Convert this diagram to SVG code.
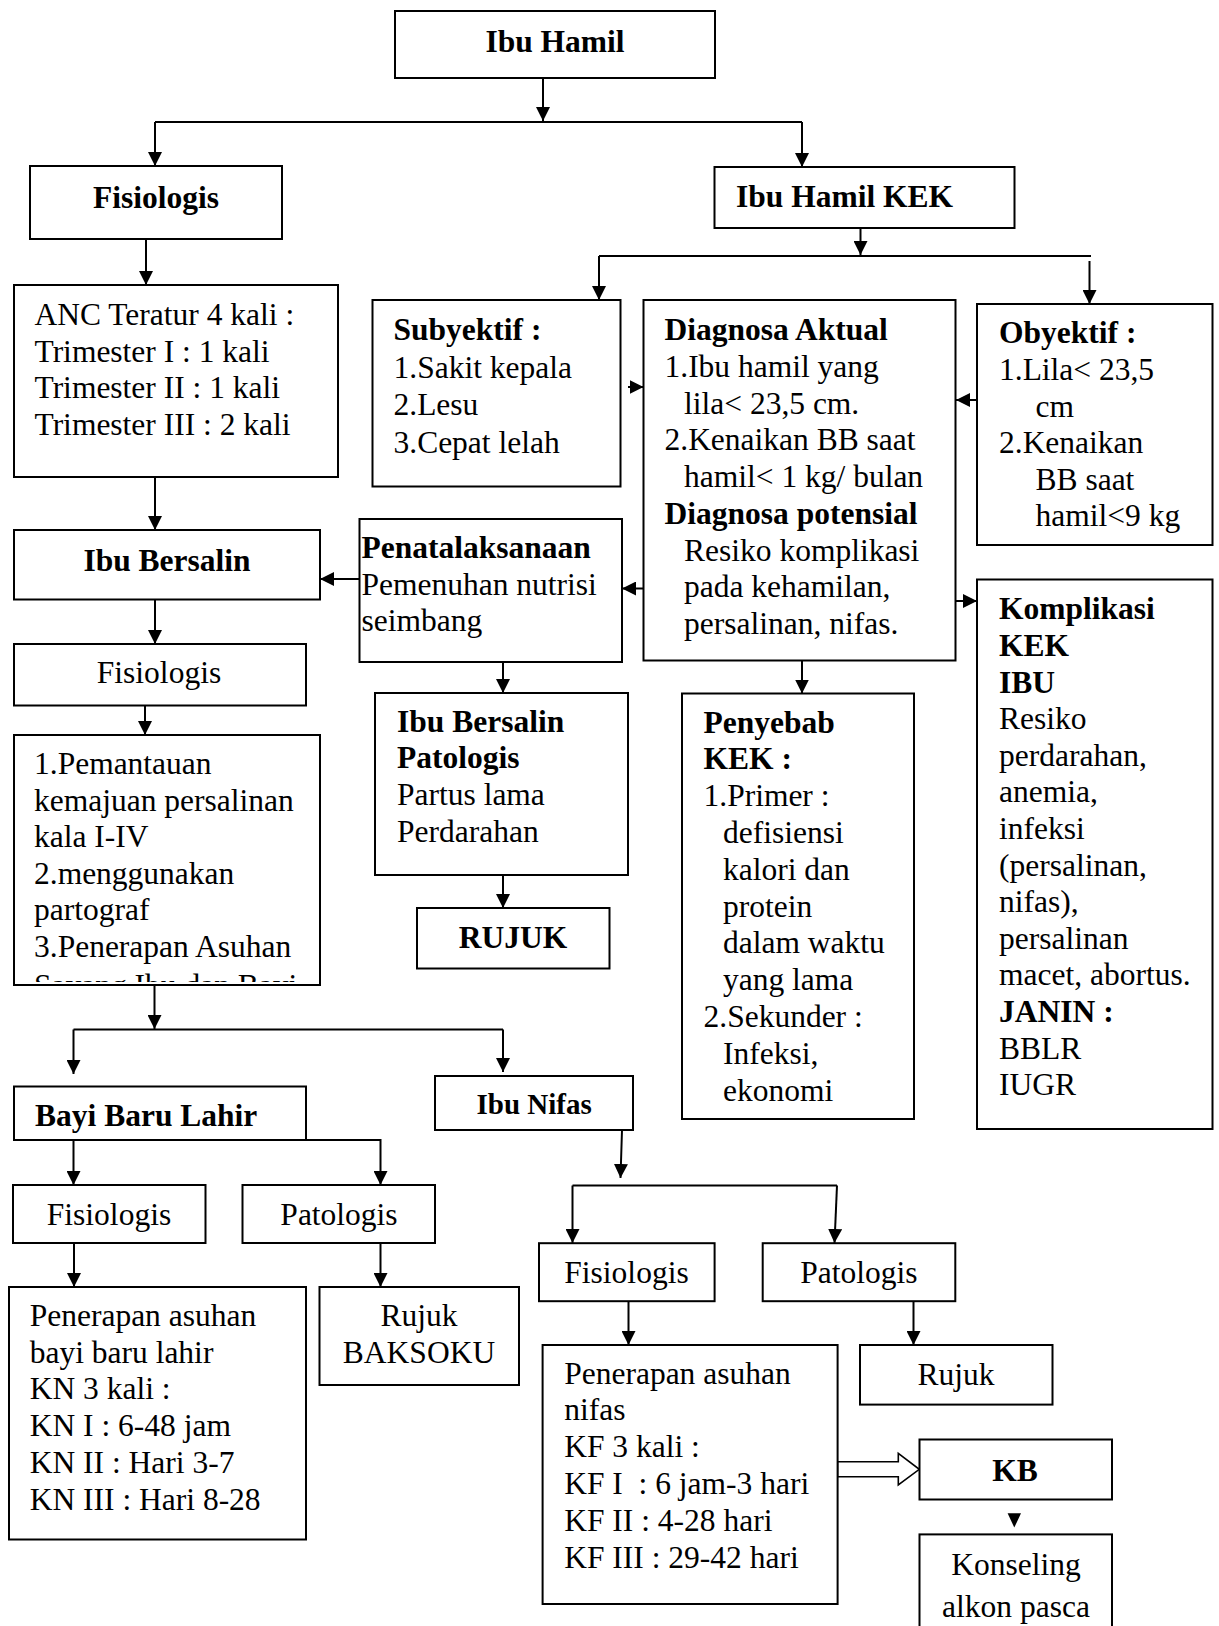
<svg xmlns="http://www.w3.org/2000/svg" width="1219" height="1626" viewBox="0 0 1219 1626">
<style>
.box{fill:#fff;stroke:#000;stroke-width:2}
text{font-family:"Liberation Serif","Times New Roman",serif;font-size:31.5px;fill:#000}
.b{font-weight:bold}
.c{text-anchor:middle}
.pre{white-space:pre}
.conn line,.conn path{stroke:#000;stroke-width:2;fill:none}
</style>
<defs>
<marker id="ah" markerUnits="userSpaceOnUse" markerWidth="14" markerHeight="14" refX="14" refY="7" orient="auto">
<path d="M0,0 L14,7 L0,14 z" fill="#000"/>
</marker>
<clipPath id="clipPem"><rect x="14" y="735" width="306" height="247"/></clipPath>
</defs>
<rect width="1219" height="1626" fill="#fff"/>

<g class="conn">
<line x1="543" y1="78" x2="543" y2="121" marker-end="url(#ah)"/>
<line x1="155" y1="122" x2="802" y2="122"/>
<line x1="155" y1="122" x2="155" y2="166" marker-end="url(#ah)"/>
<line x1="802" y1="122" x2="802" y2="167" marker-end="url(#ah)"/>
<line x1="146" y1="239" x2="146" y2="285" marker-end="url(#ah)"/>
<line x1="860.5" y1="213" x2="860.5" y2="255" marker-end="url(#ah)"/>
<line x1="599" y1="256" x2="1091" y2="256"/>
<line x1="599" y1="256" x2="599" y2="300" marker-end="url(#ah)"/>
<line x1="1089.5" y1="261" x2="1089.5" y2="304" marker-end="url(#ah)"/>
<line x1="628" y1="387" x2="643.5" y2="387" marker-end="url(#ah)"/>
<line x1="977" y1="400" x2="956" y2="400" marker-end="url(#ah)"/>
<line x1="155" y1="477" x2="155" y2="530" marker-end="url(#ah)"/>
<line x1="359.5" y1="579" x2="320" y2="579" marker-end="url(#ah)"/>
<line x1="649" y1="588.5" x2="622" y2="588.5" marker-end="url(#ah)"/>
<line x1="955.5" y1="601" x2="977" y2="601" marker-end="url(#ah)"/>
<line x1="155" y1="599.5" x2="155" y2="644" marker-end="url(#ah)"/>
<line x1="145" y1="705.5" x2="145" y2="735" marker-end="url(#ah)"/>
<line x1="503" y1="662" x2="503" y2="693" marker-end="url(#ah)"/>
<line x1="503" y1="875" x2="503" y2="908" marker-end="url(#ah)"/>
<line x1="802" y1="660.5" x2="802" y2="693.5" marker-end="url(#ah)"/>
<line x1="154.5" y1="985" x2="154.5" y2="1029" marker-end="url(#ah)"/>
<line x1="73.5" y1="1029.5" x2="503" y2="1029.5"/>
<line x1="73.5" y1="1029.5" x2="73.5" y2="1074" marker-end="url(#ah)"/>
<line x1="503" y1="1029.5" x2="503" y2="1072" marker-end="url(#ah)"/>
<line x1="73.5" y1="1140" x2="73.5" y2="1185" marker-end="url(#ah)"/>
<path d="M306,1140 H380.5 V1185" marker-end="url(#ah)"/>
<line x1="74" y1="1243" x2="74" y2="1287" marker-end="url(#ah)"/>
<line x1="380.5" y1="1243" x2="380.5" y2="1287" marker-end="url(#ah)"/>
<line x1="622" y1="1130" x2="620.5" y2="1178" marker-end="url(#ah)"/>
<line x1="572.5" y1="1185.5" x2="837" y2="1185.5"/>
<line x1="572.5" y1="1185.5" x2="572.5" y2="1243" marker-end="url(#ah)"/>
<line x1="837" y1="1185.5" x2="834.5" y2="1243" marker-end="url(#ah)"/>
<line x1="628.5" y1="1301.5" x2="628.5" y2="1345" marker-end="url(#ah)"/>
<line x1="913.5" y1="1301.5" x2="913.5" y2="1345" marker-end="url(#ah)"/>
<polygon points="837.5,1461.7 898.3,1461.7 898.3,1453.3 919.3,1469.3 898.3,1485 898.3,1476.7 837.5,1476.7" fill="#fff" stroke="#000" stroke-width="1.6"/>
<polygon points="1007.6,1513.3 1021,1513.3 1014.3,1527.5" fill="#000"/>
</g>

<g id="ibu-hamil"><rect class="box" x="395" y="11" width="320" height="67"/><text class="b c" x="555" y="52">Ibu Hamil</text></g>
<g id="fisiologis-1"><rect class="box" x="30" y="166" width="252" height="73"/><text class="b c" x="156" y="208">Fisiologis</text></g>
<g id="ibu-hamil-kek"><rect class="box" x="714.5" y="167" width="300" height="61"/><text class="b" x="736" y="207">Ibu Hamil KEK</text></g>
<g id="anc"><rect class="box" x="14" y="285" width="324" height="192"/>
<text x="34.5" y="325">ANC Teratur 4 kali :</text>
<text x="34.5" y="361.7">Trimester I : 1 kali</text>
<text x="34.5" y="398.3">Trimester II : 1 kali</text>
<text x="34.5" y="435">Trimester III : 2 kali</text></g>
<g id="subyektif"><rect class="box" x="372.5" y="300" width="248" height="186.5"/>
<text class="b" x="393.5" y="340">Subyektif :</text>
<text x="393.5" y="377.5">1.Sakit kepala</text>
<text x="393.5" y="415">2.Lesu</text>
<text x="393.5" y="452.5">3.Cepat lelah</text></g>
<g id="diagnosa"><rect class="box" x="643.5" y="300" width="312" height="360.5"/>
<text class="b" x="664.5" y="340">Diagnosa Aktual</text>
<text x="664.5" y="376.75">1.Ibu hamil yang</text>
<text x="684" y="413.5">lila&lt; 23,5 cm.</text>
<text x="664.5" y="450.25">2.Kenaikan BB saat</text>
<text x="684" y="487">hamil&lt; 1 kg/ bulan</text>
<text class="b" x="664.5" y="523.75">Diagnosa potensial</text>
<text x="684" y="560.5">Resiko komplikasi</text>
<text x="684" y="597.25">pada kehamilan,</text>
<text x="684" y="634">persalinan, nifas.</text></g>
<g id="obyektif"><rect class="box" x="977" y="304" width="235.5" height="241"/>
<text class="b" x="999" y="343.3">Obyektif :</text>
<text x="999" y="379.9">1.Lila&lt; 23,5</text>
<text x="1035.5" y="416.5">cm</text>
<text x="999" y="453.1">2.Kenaikan</text>
<text x="1035.5" y="489.7">BB saat</text>
<text x="1035.5" y="526.3">hamil&lt;9 kg</text></g>
<g id="ibu-bersalin"><rect class="box" x="14" y="530" width="306" height="69.5"/><text class="b c" x="167" y="570.7">Ibu Bersalin</text></g>
<g id="penatalaksanaan"><rect class="box" x="359.5" y="519" width="262.5" height="143"/>
<text class="b" x="361.5" y="558.3">Penatalaksanaan</text>
<text x="361.5" y="595">Pemenuhan nutrisi</text>
<text x="361.5" y="631">seimbang</text></g>
<g id="komplikasi"><rect class="box" x="977" y="579.5" width="235.5" height="549.5"/>
<text class="b" x="999" y="619.3">Komplikasi</text>
<text class="b" x="999" y="655.9">KEK</text>
<text class="b" x="999" y="692.5">IBU</text>
<text x="999" y="729.1">Resiko</text>
<text x="999" y="765.7">perdarahan,</text>
<text x="999" y="802.3">anemia,</text>
<text x="999" y="838.9">infeksi</text>
<text x="999" y="875.5">(persalinan,</text>
<text x="999" y="912.1">nifas),</text>
<text x="999" y="948.7">persalinan</text>
<text x="999" y="985.3">macet, abortus.</text>
<text class="b" x="999" y="1021.9">JANIN :</text>
<text x="999" y="1058.5">BBLR</text>
<text x="999" y="1095.1">IUGR</text></g>
<g id="fisiologis-2"><rect class="box" x="14" y="644" width="292" height="61.5"/><text class="c" x="159" y="683.3">Fisiologis</text></g>
<g id="bersalin-patologis"><rect class="box" x="375" y="693" width="253" height="182"/>
<text class="b" x="397" y="731.7">Ibu Bersalin</text>
<text class="b" x="397" y="768.3">Patologis</text>
<text x="397" y="805">Partus lama</text>
<text x="397" y="841.7">Perdarahan</text></g>
<g id="penyebab"><rect class="box" x="682" y="693.5" width="232" height="425.5"/>
<text class="b" x="703.5" y="732.5">Penyebab</text>
<text class="b" x="703.5" y="769.3">KEK :</text>
<text x="703.5" y="806.1">1.Primer :</text>
<text x="723" y="842.9">defisiensi</text>
<text x="723" y="879.7">kalori dan</text>
<text x="723" y="916.5">protein</text>
<text x="723" y="953.3">dalam waktu</text>
<text x="723" y="990.1">yang lama</text>
<text x="703.5" y="1026.9">2.Sekunder :</text>
<text x="723" y="1063.7">Infeksi,</text>
<text x="723" y="1100.5">ekonomi</text></g>
<g id="pemantauan"><rect class="box" x="14" y="735" width="306" height="250"/>
<text x="34" y="774">1.Pemantauan</text>
<text x="34" y="810.6">kemajuan persalinan</text>
<text x="34" y="847.2">kala I-IV</text>
<text x="34" y="883.8">2.menggunakan</text>
<text x="34" y="920.4">partograf</text>
<text x="34" y="957">3.Penerapan Asuhan</text>
<text x="34" y="996" clip-path="url(#clipPem)">Sayang Ibu dan Bayi</text></g>
<g id="rujuk-1"><rect class="box" x="417" y="908" width="192.5" height="60.5"/><text class="b c" x="513" y="948.3">RUJUK</text></g>
<g id="bayi-baru-lahir"><rect class="box" x="14" y="1086.5" width="292" height="53.5"/><text class="b" x="35" y="1126.3">Bayi Baru Lahir</text></g>
<g id="ibu-nifas"><rect class="box" x="435" y="1076" width="198" height="54"/><text class="b" x="476.5" y="1114" style="font-size:29px">Ibu Nifas</text></g>
<g id="bbl-fisiologis"><rect class="box" x="13" y="1185" width="192.5" height="58"/><text class="c" x="109" y="1225">Fisiologis</text></g>
<g id="bbl-patologis"><rect class="box" x="242.5" y="1185" width="192.5" height="58"/><text class="c" x="339" y="1225">Patologis</text></g>
<g id="bbl-penerapan"><rect class="box" x="9" y="1287" width="297" height="252.5"/>
<text x="29.7" y="1326">Penerapan asuhan</text>
<text x="29.7" y="1362.7">bayi baru lahir</text>
<text x="29.7" y="1399.4">KN 3 kali :</text>
<text x="29.7" y="1436.1">KN I : 6-48 jam</text>
<text x="29.7" y="1472.8">KN II : Hari 3-7</text>
<text x="29.7" y="1509.5">KN III : Hari 8-28</text></g>
<g id="rujuk-baksoku"><rect class="box" x="319.5" y="1287" width="199.5" height="98"/>
<text class="c" x="419" y="1326">Rujuk</text>
<text class="c" x="419" y="1363">BAKSOKU</text></g>
<g id="nifas-fisiologis"><rect class="box" x="539" y="1243.2" width="175.6" height="58"/><text class="c" x="626.5" y="1282.8">Fisiologis</text></g>
<g id="nifas-patologis"><rect class="box" x="762.7" y="1243.2" width="192.6" height="58"/><text class="c" x="858.8" y="1282.8">Patologis</text></g>
<g id="nifas-penerapan"><rect class="box" x="542.6" y="1345" width="295" height="259"/>
<text x="564.2" y="1383.5">Penerapan asuhan</text>
<text x="564.2" y="1420.3">nifas</text>
<text x="564.2" y="1457.1">KF 3 kali :</text>
<text class="pre" x="564.2" y="1494">KF I  : 6 jam-3 hari</text>
<text x="564.2" y="1530.8">KF II : 4-28 hari</text>
<text x="564.2" y="1567.6">KF III : 29-42 hari</text></g>
<g id="nifas-rujuk"><rect class="box" x="860" y="1345" width="192.5" height="59.6"/><text class="c" x="956" y="1385">Rujuk</text></g>
<g id="kb"><rect class="box" x="919.5" y="1439.5" width="192.5" height="60"/><text class="b c" x="1015" y="1480.7">KB</text></g>
<g id="konseling"><rect class="box" x="919.5" y="1534.4" width="192.5" height="120"/>
<text class="c" x="1016" y="1575">Konseling</text>
<text class="c" x="1016" y="1616.7">alkon pasca</text></g>
</svg>
